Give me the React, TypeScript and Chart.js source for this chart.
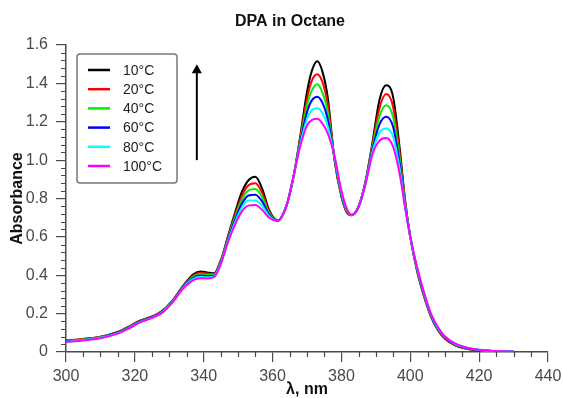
import React, { useEffect, useRef } from "react";
import { Chart, registerables } from "chart.js";

Chart.register(...registerables);

const wavelengths = [300, 305, 310, 315, 318, 321, 325, 328, 331, 334, 337, 339, 341, 343, 345, 347, 349, 351, 353, 355, 357, 359, 361.5, 364, 366, 368, 370, 371.5, 373, 374.5, 376, 378, 380, 381.5, 383, 385, 387, 389, 391, 393, 395, 397, 398.5, 400, 402, 404, 406, 408, 410, 413, 416, 420, 425, 430];

const abs10 = [0.060, 0.068, 0.080, 0.105, 0.130, 0.160, 0.185, 0.215, 0.270, 0.345, 0.405, 0.420, 0.415, 0.410, 0.480, 0.600, 0.720, 0.830, 0.895, 0.913, 0.850, 0.740, 0.685, 0.760, 0.905, 1.120, 1.355, 1.470, 1.515, 1.460, 1.330, 1.000, 0.810, 0.730, 0.713, 0.760, 0.890, 1.090, 1.310, 1.390, 1.330, 1.050, 0.790, 0.600, 0.420, 0.290, 0.185, 0.115, 0.070, 0.035, 0.018, 0.008, 0.003, 0.001];
const abs20 = [0.059, 0.066, 0.078, 0.103, 0.128, 0.158, 0.184, 0.213, 0.268, 0.342, 0.399, 0.413, 0.409, 0.406, 0.476, 0.594, 0.708, 0.810, 0.869, 0.880, 0.828, 0.732, 0.685, 0.760, 0.906, 1.110, 1.320, 1.418, 1.448, 1.406, 1.292, 1.004, 0.816, 0.734, 0.713, 0.759, 0.887, 1.078, 1.268, 1.344, 1.278, 1.024, 0.782, 0.600, 0.424, 0.294, 0.188, 0.118, 0.072, 0.037, 0.019, 0.009, 0.003, 0.001];
const abs40 = [0.057, 0.065, 0.077, 0.101, 0.126, 0.156, 0.182, 0.211, 0.266, 0.339, 0.393, 0.406, 0.402, 0.402, 0.472, 0.588, 0.696, 0.790, 0.842, 0.850, 0.806, 0.724, 0.684, 0.760, 0.907, 1.100, 1.285, 1.366, 1.396, 1.352, 1.254, 1.008, 0.822, 0.738, 0.714, 0.758, 0.884, 1.066, 1.226, 1.286, 1.226, 0.998, 0.774, 0.600, 0.428, 0.298, 0.191, 0.121, 0.075, 0.039, 0.021, 0.010, 0.004, 0.001];
const abs60 = [0.056, 0.063, 0.075, 0.100, 0.124, 0.154, 0.181, 0.209, 0.264, 0.336, 0.387, 0.399, 0.396, 0.398, 0.468, 0.582, 0.684, 0.770, 0.816, 0.820, 0.784, 0.716, 0.684, 0.760, 0.908, 1.090, 1.250, 1.314, 1.330, 1.298, 1.216, 1.012, 0.828, 0.742, 0.714, 0.757, 0.881, 1.054, 1.184, 1.226, 1.174, 0.972, 0.766, 0.600, 0.432, 0.302, 0.194, 0.124, 0.077, 0.041, 0.022, 0.010, 0.004, 0.002];
const abs80 = [0.054, 0.062, 0.074, 0.098, 0.122, 0.152, 0.179, 0.207, 0.262, 0.333, 0.381, 0.392, 0.389, 0.394, 0.464, 0.576, 0.672, 0.750, 0.789, 0.790, 0.762, 0.708, 0.683, 0.760, 0.909, 1.080, 1.215, 1.262, 1.270, 1.244, 1.178, 1.016, 0.834, 0.746, 0.715, 0.756, 0.878, 1.042, 1.142, 1.165, 1.122, 0.946, 0.758, 0.600, 0.436, 0.306, 0.197, 0.127, 0.080, 0.043, 0.024, 0.011, 0.005, 0.002];
const abs100 = [0.053, 0.060, 0.072, 0.096, 0.120, 0.150, 0.178, 0.205, 0.260, 0.330, 0.375, 0.385, 0.383, 0.390, 0.460, 0.570, 0.660, 0.730, 0.763, 0.766, 0.740, 0.700, 0.683, 0.760, 0.910, 1.070, 1.180, 1.210, 1.215, 1.190, 1.140, 1.020, 0.840, 0.750, 0.715, 0.755, 0.875, 1.030, 1.100, 1.115, 1.070, 0.920, 0.750, 0.600, 0.440, 0.310, 0.200, 0.130, 0.082, 0.045, 0.025, 0.012, 0.005, 0.002];

const seriesLabels = ["10°C", "20°C", "40°C", "60°C", "80°C", "100°C"];
const seriesColors = ["#000000", "#ff0000", "#00ee00", "#0000ff", "#00ffff", "#ff00ff"];

const chartTitle = "DPA in Octane";
const xTitle = "λ, nm";
const yTitle = "Absorbance";

const X_MIN = 300;
const X_MAX = 440;
const X_STEP = 20;
const X_MINOR = 5;
const Y_MIN = 0;
const Y_MAX = 1.6;
const Y_STEP = 0.2;
const Y_MINOR = 0.04;

// arrow annotation (data coords): wavelength, from absorbance, to absorbance
const arrowX = 338;
const arrowFrom = 1.0;
const arrowTo = 1.5;

const FONT = "Helvetica, Arial, 'Liberation Sans', sans-serif";

export default function App() {
  const ref = useRef<HTMLCanvasElement>(null);

  useEffect(() => {
    if (!ref.current) return;
    const series = [abs10, abs20, abs40, abs60, abs80, abs100];
    const datasets = series.map((vals, i) => ({
      label: seriesLabels[i],
      data: vals.map((y, j) => ({ x: wavelengths[j], y })),
      borderColor: seriesColors[i],
      backgroundColor: seriesColors[i],
      borderWidth: 2,
      pointRadius: 0,
      cubicInterpolationMode: "monotone" as const,
      fill: false,
      order: series.length - 1 - i,
    }));

    const axisColor = "#4a4a4a";

    const titleText = {
      id: "titleText",
      afterDraw(chart: any) {
        const { ctx, chartArea } = chart;
        ctx.save();
        ctx.font = `bold 16px ${FONT}`;
        ctx.fillStyle = "#111";
        ctx.textAlign = "center";
        ctx.textBaseline = "middle";
        ctx.fillText(chartTitle, (chartArea.left + chartArea.right) / 2 - 17, 22);
        ctx.restore();
      },
    };

    const minorTicks = {
      id: "minorTicks",
      afterDraw(chart: any) {
        const { ctx, chartArea, scales } = chart;
        const xs = scales.x;
        const ys = scales.y;
        ctx.save();
        ctx.strokeStyle = axisColor;
        ctx.lineWidth = 1.2;
        ctx.beginPath();
        const nx = Math.round((X_MAX - X_MIN) / X_MINOR);
        for (let k = 0; k <= nx; k++) {
          const v = X_MIN + k * X_MINOR;
          if (Math.abs(v / X_STEP - Math.round(v / X_STEP)) < 1e-6) continue;
          const px = Math.round(xs.getPixelForValue(v)) + 0.5;
          ctx.moveTo(px, chartArea.bottom);
          ctx.lineTo(px, chartArea.bottom + 5);
        }
        const ny = Math.round((Y_MAX - Y_MIN) / Y_MINOR);
        for (let k = 0; k <= ny; k++) {
          if (k % 5 === 0) continue;
          const v = Y_MIN + k * Y_MINOR;
          const py = Math.round(ys.getPixelForValue(v)) + 0.5;
          ctx.moveTo(chartArea.left - 5, py);
          ctx.lineTo(chartArea.left, py);
        }
        ctx.stroke();
        ctx.restore();
      },
    };

    const legendBox = {
      id: "legendBox",
      afterDraw(chart: any) {
        const { ctx, chartArea } = chart;
        const left = chartArea.left + 11;
        const top = chartArea.top + 9;
        const w = 100;
        const h = 129;
        ctx.save();
        ctx.fillStyle = "#fff";
        ctx.strokeStyle = "#777";
        ctx.lineWidth = 1.5;
        ctx.beginPath();
        if ((ctx as any).roundRect) (ctx as any).roundRect(left, top, w, h, 3);
        else ctx.rect(left, top, w, h);
        ctx.fill();
        ctx.stroke();
        ctx.font = `14px ${FONT}`;
        ctx.textBaseline = "middle";
        ctx.textAlign = "left";
        chart.data.datasets.forEach((ds: any, i: number) => {
          const y = top + 16 + i * 19.2;
          ctx.strokeStyle = ds.borderColor;
          ctx.lineWidth = 2.5;
          ctx.beginPath();
          ctx.moveTo(left + 11, y);
          ctx.lineTo(left + 33, y);
          ctx.stroke();
          ctx.fillStyle = "#222";
          ctx.fillText(ds.label, left + 46, y + 1);
        });
        ctx.restore();
      },
    };

    const arrow = {
      id: "arrow",
      afterDraw(chart: any) {
        const { ctx, scales } = chart;
        const px = scales.x.getPixelForValue(arrowX);
        const y0 = scales.y.getPixelForValue(arrowFrom);
        const y1 = scales.y.getPixelForValue(arrowTo);
        ctx.save();
        ctx.strokeStyle = "#000";
        ctx.fillStyle = "#000";
        ctx.lineWidth = 2;
        ctx.beginPath();
        ctx.moveTo(px, y0);
        ctx.lineTo(px, y1 + 6);
        ctx.stroke();
        ctx.beginPath();
        ctx.moveTo(px, y1);
        ctx.lineTo(px - 5, y1 + 9);
        ctx.lineTo(px + 5, y1 + 9);
        ctx.closePath();
        ctx.fill();
        ctx.restore();
      },
    };

    const chart = new Chart(ref.current, {
      type: "line",
      data: { datasets },
      options: {
        responsive: false,
        animation: false,
        devicePixelRatio: 1,
        layout: { padding: { left: 0, right: 15, top: 45, bottom: 0 } },
        plugins: {
          legend: { display: false },
          tooltip: { enabled: false },
          title: { display: false },
        },
        scales: {
          x: {
            type: "linear",
            min: X_MIN,
            max: X_MAX,
            ticks: {
              stepSize: X_STEP,
              color: axisColor,
              font: { family: FONT, size: 16 },
              padding: 5,
              maxRotation: 0,
            },
            grid: {
              display: true,
              drawOnChartArea: false,
              drawTicks: true,
              tickLength: 10,
              color: axisColor,
              lineWidth: 1.2,
            },
            border: { display: true, color: axisColor, width: 1.5 },
            title: {
              display: true,
              text: xTitle,
              color: "#111",
              font: { family: FONT, size: 16, weight: "bold", lineHeight: 1 },
              padding: { top: 0, bottom: 0 },
            },
            afterFit: (s: any) => {
              s.height = 46;
              s.paddingRight = 0;
              s.paddingLeft = 0;
            },
          },
          y: {
            type: "linear",
            min: Y_MIN,
            max: Y_MAX,
            ticks: {
              stepSize: Y_STEP,
              color: axisColor,
              font: { family: FONT, size: 16 },
              padding: 8,
            },
            grid: {
              display: true,
              drawOnChartArea: false,
              drawTicks: true,
              tickLength: 10,
              color: axisColor,
              lineWidth: 1.2,
            },
            border: { display: true, color: axisColor, width: 1.5 },
            title: {
              display: true,
              text: yTitle,
              color: "#111",
              font: { family: FONT, size: 16, weight: "bold" },
              padding: { top: 8, bottom: 0 },
            },
            afterFit: (s: any) => {
              s.width = 66;
            },
          },
        },
      },
      plugins: [minorTicks, legendBox, arrow, titleText],
    } as any);

    return () => chart.destroy();
  }, []);

  return (
    <div style={{ position: "fixed", left: 0, top: 0, width: 563, height: 398, background: "#fff" }}>
      <canvas ref={ref} width={563} height={398} style={{ display: "block", width: 563, height: 398 }} />
    </div>
  );
}
